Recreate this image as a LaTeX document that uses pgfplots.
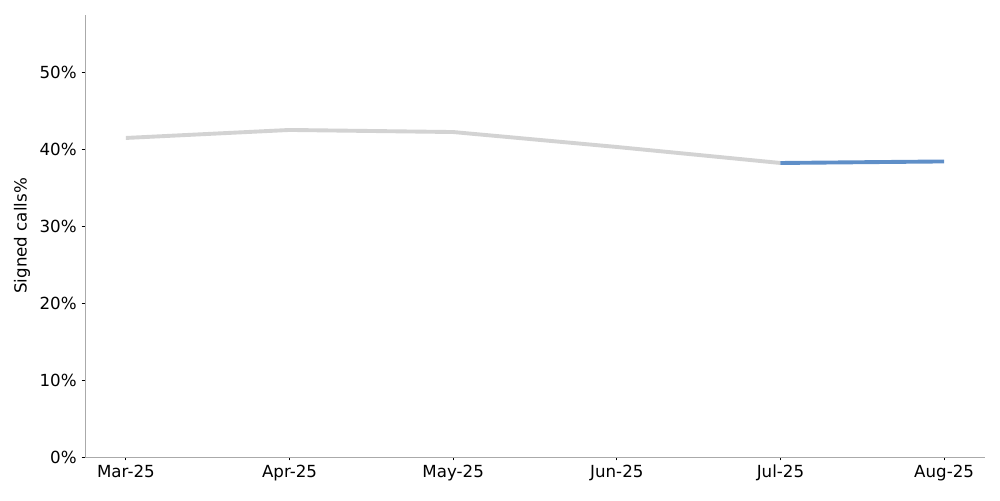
\documentclass[border=0pt]{standalone}
\usepackage{pgfplots}
\pgfplotsset{compat=1.18}
\usepackage{fontspec}
\setmainfont{DejaVu Sans}
\definecolor{lgray}{HTML}{D3D3D3}
\definecolor{lblue}{HTML}{5F8FC8}
\definecolor{spine}{HTML}{AAAAAA}
\begin{document}
\begin{tikzpicture}
\begin{axis}[
  at={(0,0)}, anchor=south west,
  scale only axis, width=648pt, height=318.2pt,
  xmin=-0.25, xmax=5.25, ymin=0, ymax=57.4,
  axis x line*=bottom, axis y line*=left,
  axis line style={spine, line width=0.6pt, -},
  xtick={0,1,2,3,4,5},
  xticklabels={Mar-25,Apr-25,May-25,Jun-25,Jul-25,Aug-25},
  ytick={0,10,20,30,40,50},
  yticklabel={\pgfmathprintnumber{\tick}\%},
  tick align=outside, tick style={black, line width=0.6pt},
  major tick length=2.5pt,
  tick label style={font=\fontsize{12}{14}\selectfont},
  /pgf/number format/assume math mode=true,
  ylabel={Signed calls\%},
  every axis y label/.style={at={(axis description cs:0,0.5)}, rotate=90, anchor=center, yshift=45.4pt, inner sep=0pt, font=\fontsize{12}{14}\selectfont},
  clip=false,
]
\addplot[lgray, line width=2.8pt] coordinates {(0,41.43) (1,42.47) (2,42.2) (3,40.26) (4,38.18)};
\addplot[lblue, line width=2.8pt] coordinates {(4,38.18) (5,38.38)};
\end{axis}
\pgfresetboundingbox
\path (-61.2pt,-31pt) rectangle (658.8pt,329pt);
\end{tikzpicture}
\end{document}
